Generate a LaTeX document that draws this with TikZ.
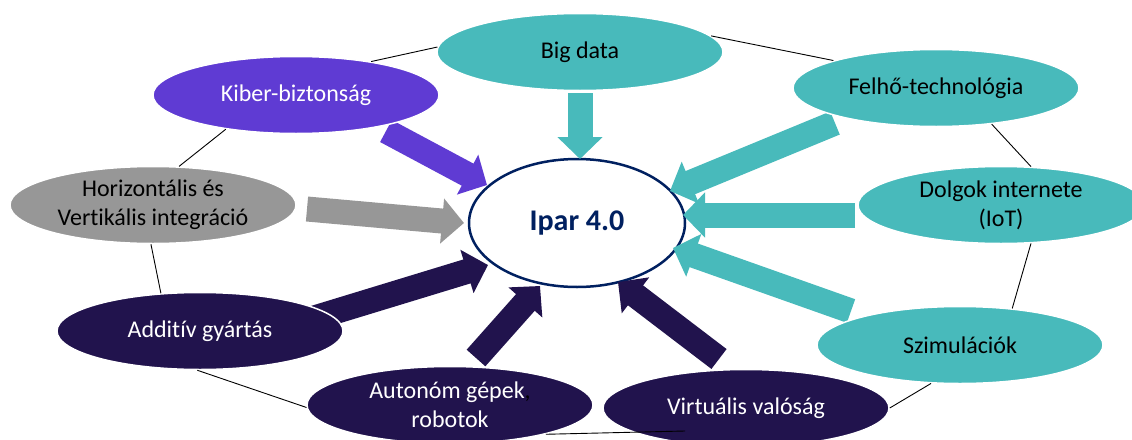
\documentclass[tikz,border=0pt]{standalone}
\usepackage{fontspec}
\setmainfont[Ligatures=NoCommon]{Carlito}
\usetikzlibrary{shapes.geometric,arrows.meta}
\definecolor{tealc}{RGB}{72,186,187}
\definecolor{purpc}{RGB}{95,59,211}
\definecolor{greyc}{RGB}{151,151,151}
\definecolor{navyd}{RGB}{33,19,77}
\definecolor{iparblue}{RGB}{0,32,96}
\begin{document}
\begin{tikzpicture}[x=1pt,y=-1pt,
  sat/.style={ellipse, minimum width=286pt, minimum height=77pt, inner sep=0pt,
    align=center, font=\fontsize{24}{29}\selectfont, draw=white, line width=1.5pt},
  tealsat/.style={sat, fill=tealc, text=black},
  purpsat/.style={sat, fill=purpc, text=white},
  greysat/.style={sat, fill=greyc, text=black},
  navysat/.style={sat, fill=navyd, text=white},
  bigarrow/.style={line width=25pt, -{Triangle[length=22pt,width=44pt]}},
  link/.style={draw=black, line width=0.9pt}]
\useasboundingbox (0,0) rectangle (1132,439);

% centre
\node[ellipse, draw=iparblue, line width=2.5pt, fill=white, minimum width=216pt,
  minimum height=128pt, inner sep=0pt, text=iparblue,
  font=\fontsize{30}{36}\selectfont\bfseries] (ipar) at (577,223) {Ipar 4.0};

% arrow end points
\coordinate (abs) at (580,93);   \coordinate (abe) at (580,159);
\coordinate (aks) at (386,131);  \coordinate (ake) at (487,185);
\coordinate (afs) at (835,123);  \coordinate (afe) at (670,191);
\coordinate (ads) at (855,215);  \coordinate (ade) at (683,215);
\coordinate (ass) at (851,311);  \coordinate (ase) at (673,248);
\coordinate (ahs) at (307,209);  \coordinate (ahe) at (464,223);
\coordinate (aas) at (311,319);  \coordinate (aae) at (488,265);
\coordinate (aus) at (476,358);  \coordinate (aue) at (540,286);
\coordinate (avs) at (719,359);  \coordinate (ave) at (618,282);

\draw[bigarrow, draw=tealc, fill=tealc] (abs) -- (abe);
\draw[bigarrow, draw=purpc, fill=purpc] (aks) -- (ake);
\draw[bigarrow, draw=tealc, fill=tealc] (afs) -- (afe);
\draw[bigarrow, draw=tealc, fill=tealc] (ads) -- (ade);
\draw[bigarrow, draw=tealc, fill=tealc] (ass) -- (ase);
\draw[bigarrow, draw=greyc, fill=greyc] (ahs) -- (ahe);
\draw[bigarrow, draw=navyd, fill=navyd] (aas) -- (aae);
\draw[bigarrow, draw=navyd, fill=navyd] (aus) -- (aue);
\draw[bigarrow, draw=navyd, fill=navyd] (avs) -- (ave);

% satellites
\node[tealsat] (big) at (580,52) {Big data};
\node[purpsat] (kiber) at (296,95) {Kiber-biztonság};
\node[tealsat] (felho) at (936,88) {Felhő-technológia};
\node[greysat] (horiz) at (153,205) {Horizontális és\\Vertikális integráció};
\node[tealsat] (dolgok) at (1001,205) {Dolgok internete\\(IoT)};
\node[navysat] (add) at (200,331) {Additív gyártás};
\node[tealsat] (szim) at (960,345) {Szimulációk};
\node[navysat] (auto) at (450,405) {Autonóm gépek{\color{black},}\\robotok};
\node[navysat] (virt) at (746,408) {Virtuális valóság};

% ring of thin connectors
\coordinate (vl) at (685,431);
\draw[link] (kiber.24) -- (big.178);
\draw[link] (big.7) -- (felho.165);
\draw[link] (felho.-33) -- (dolgok.52);
\draw[link] (dolgok.-52) -- (szim.35);
\draw[link] (szim.-127) -- (virt.0);
\draw[link] (vl) -- (auto.-17);
\draw[link] (add.-94) -- (auto.181);
\draw[link] (add.136) -- (horiz.-93);
\draw[link] (horiz.56) -- (kiber.206);
\end{tikzpicture}
\end{document}
